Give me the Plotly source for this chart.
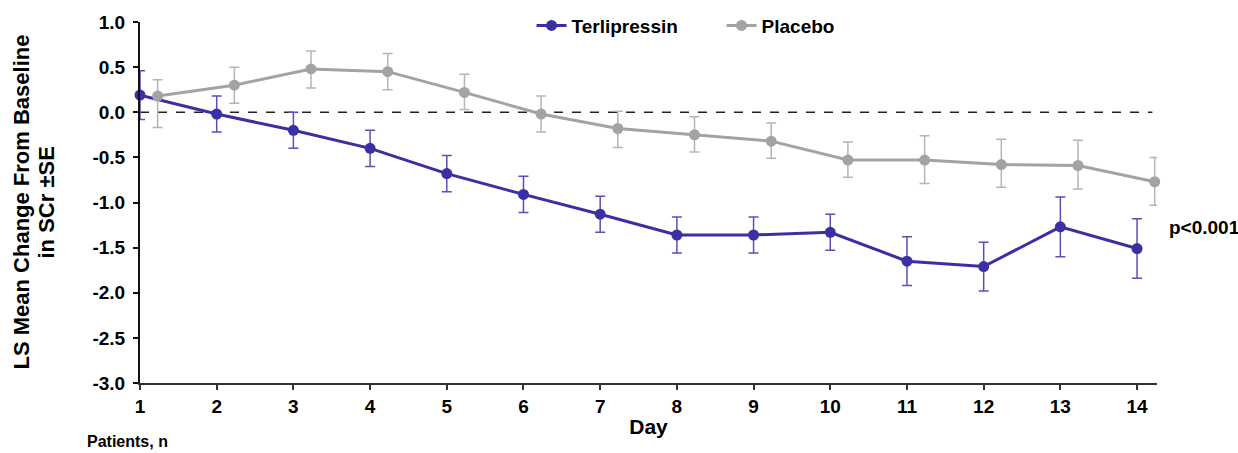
import numpy as np
import plotly.graph_objects as go

days = list(range(1, 15))
terli_mean = [0.19, -0.02, -0.20, -0.40, -0.68, -0.91, -1.13, -1.36, -1.36, -1.33, -1.65, -1.71, -1.27, -1.51]
terli_se = [0.27, 0.20, 0.20, 0.20, 0.20, 0.20, 0.20, 0.20, 0.20, 0.20, 0.27, 0.27, 0.33, 0.33]
placebo_mean = [0.18, 0.30, 0.48, 0.45, 0.22, -0.02, -0.18, -0.25, -0.32, -0.53, -0.53, -0.58, -0.59, -0.77]
placebo_se_up = [0.18, 0.20, 0.20, 0.20, 0.20, 0.20, 0.19, 0.20, 0.20, 0.20, 0.27, 0.28, 0.28, 0.27]
placebo_se_down = [0.35, 0.20, 0.21, 0.20, 0.19, 0.20, 0.21, 0.19, 0.19, 0.19, 0.26, 0.25, 0.26, 0.26]
y_ticks = [1.0, 0.5, 0.0, -0.5, -1.0, -1.5, -2.0, -2.5, -3.0]

TERLI = "#3a2fa3"
TERLI_ERR = "#5a50b8"
PLAC = "#a3a3a3"
PLAC_ERR = "#b5b5b5"
FONT = "Liberation Sans"

placebo_x = np.array(days) + 0.23

fig = go.Figure()
fig.add_trace(go.Scatter(
    x=days, y=terli_mean, name="<b>Terlipressin</b>", mode="lines+markers",
    line=dict(color=TERLI, width=3), marker=dict(color=TERLI, size=11),
    error_y=dict(type="data", array=terli_se, color=TERLI_ERR, thickness=1.5, width=5),
    cliponaxis=False,
))
fig.add_trace(go.Scatter(
    x=placebo_x, y=placebo_mean, name="<b>Placebo</b>", mode="lines+markers",
    line=dict(color=PLAC, width=3), marker=dict(color=PLAC, size=11),
    error_y=dict(type="data", symmetric=False, array=placebo_se_up, arrayminus=placebo_se_down,
                 color=PLAC_ERR, thickness=1.5, width=5),
    cliponaxis=False,
))

fig.add_shape(type="line", xref="x", yref="y", x0=1, x1=14.2, y0=0, y1=0,
              line=dict(color="#222222", width=1.3, dash="dash"), layer="below")

fig.add_annotation(text="<b>p<0.001</b>", xref="paper", yref="y", x=1.0, xshift=10, y=-1.28,
                   xanchor="left", yanchor="middle", showarrow=False,
                   font=dict(family=FONT, size=19, color="black"))
fig.add_annotation(text="<b>Patients, n</b>", xref="paper", yref="paper", x=0, xshift=-55,
                   y=0, yshift=-58, xanchor="left", yanchor="middle", showarrow=False,
                   font=dict(family=FONT, size=16, color="black"))
fig.add_annotation(text="<b>LS Mean Change From Baseline</b>", xref="paper", yref="paper",
                   x=0, xshift=-119, y=0.5, xanchor="center", yanchor="middle", textangle=-90,
                   showarrow=False, font=dict(family=FONT, size=22, color="black"))
fig.add_annotation(text="<b>in SCr ±SE</b>", xref="paper", yref="paper",
                   x=0, xshift=-94, y=0.5, xanchor="center", yanchor="middle", textangle=-90,
                   showarrow=False, font=dict(family=FONT, size=22, color="black"))

fig.update_layout(
    width=1238, height=453,
    margin=dict(l=140, r=81, t=22, b=70, autoexpand=False),
    paper_bgcolor="white", plot_bgcolor="white",
    font=dict(family=FONT, color="black"),
    showlegend=True,
    legend=dict(orientation="h", x=0.385, xanchor="left", y=0.99, yanchor="middle",
                font=dict(family=FONT, size=19, color="black"), bgcolor="rgba(0,0,0,0)",
                itemwidth=30, entrywidth=145, traceorder="normal"),
    xaxis=dict(range=[1, 14.26], tickvals=days, ticktext=[f"<b>{d}</b>" for d in days],
               showline=True, linecolor="#333333", linewidth=2, ticks="outside", ticklen=5,
               tickcolor="#333333", tickwidth=1.5, showgrid=False, zeroline=False,
               tickfont=dict(family=FONT, size=19, color="black"),
               title=dict(text="<b>Day</b>", font=dict(family=FONT, size=21, color="black"), standoff=4)),
    yaxis=dict(range=[-3, 1], tickvals=y_ticks, ticktext=[f"<b>{v:.1f}</b>" for v in y_ticks],
               showline=True, linecolor="#111111", linewidth=2, ticks="outside", ticklen=5,
               tickcolor="#111111", tickwidth=1.5, showgrid=False, zeroline=False,
               ticklabelstandoff=4,
               tickfont=dict(family=FONT, size=19, color="black")),
)

fig.write_html("out.html")
